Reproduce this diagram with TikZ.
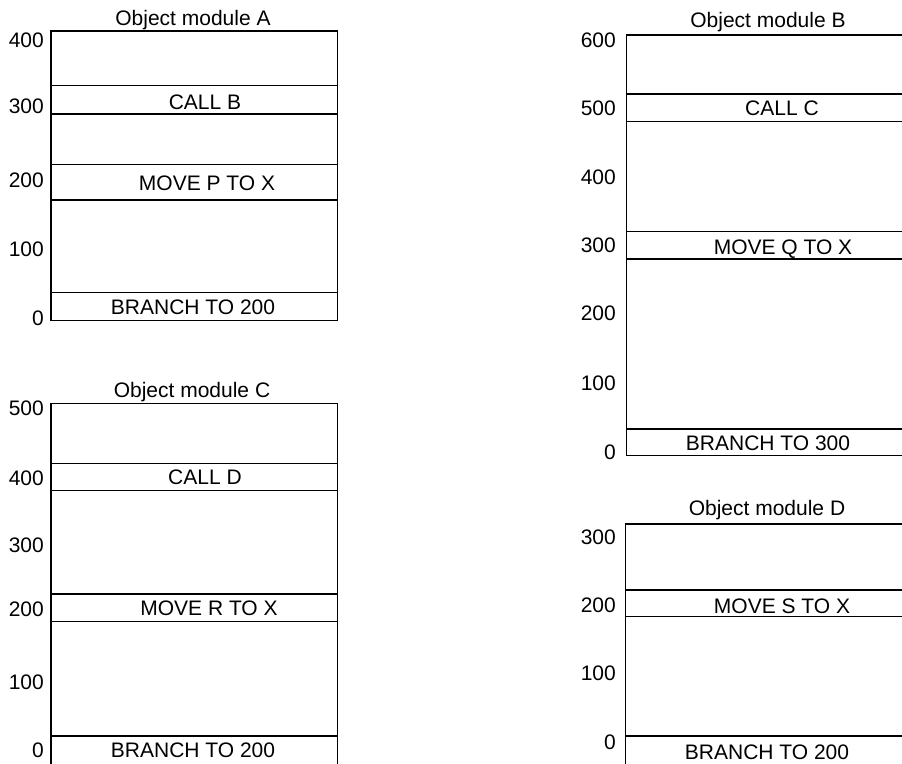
\documentclass[tikz,border=0pt]{standalone}
\usepackage{fontspec}
\setmainfont{Liberation Sans}
\begin{document}
\begin{tikzpicture}[x=1pt,y=-1pt,
  lbl/.style={anchor=base,inner sep=0pt,font=\fontsize{21}{24}\selectfont},
  num/.style={anchor=base east,inner sep=0pt,font=\fontsize{21}{24}\selectfont},
  box/.style={draw=black,line width=1.3pt},
  sep/.style={draw=black,line width=1.1pt}]
\useasboundingbox (0,0) rectangle (902,763);
% ---------- Module A ----------
\draw[box] (51,31) rectangle (337.5,320.5);
\foreach \y in {85.5,114,164.5,200,292.5} \draw[sep] (51,\y) -- (337.5,\y);
\node[lbl] (tA) at (193,25.5) {Object module A};
\node[num] (a400) at (44,47.5) {400};
\node[num] (a300) at (44,113.5) {300};
\node[num] (a200) at (44,187.5) {200};
\node[num] (a100) at (44,256.5) {100};
\node[num] (a0) at (44,325.5) {0};
\node[lbl] (callB) at (205,109) {CALL B};
\node[lbl] (moveP) at (207,190.5) {MOVE P TO X};
\node[lbl] (brA) at (193,314.5) {BRANCH TO 200};
% ---------- Module C ----------
\draw[box] (51,403.3) rectangle (337.5,800);
\foreach \y in {463.3,490.7,594,621.7,736} \draw[sep] (51,\y) -- (337.5,\y);
\node[lbl] (tC) at (192,397.5) {Object module C};
\node[num] (c500) at (44,415.5) {500};
\node[num] (c400) at (44,485.5) {400};
\node[num] (c300) at (44,552.5) {300};
\node[num] (c200) at (44,616.5) {200};
\node[num] (c100) at (44,689.5) {100};
\node[num] (c0) at (44,757.5) {0};
\node[lbl] (callD) at (205,484.5) {CALL D};
\node[lbl] (moveR) at (209,615.5) {MOVE R TO X};
\node[lbl] (brC) at (193,757.5) {BRANCH TO 200};
% ---------- Module B ----------
\draw[box] (626.7,35) rectangle (915,455.7);
\foreach \y in {94,121.7,231.7,259,429} \draw[sep] (626.7,\y) -- (915,\y);
\node[lbl] (tB) at (768,27.5) {Object module B};
\node[num] (b600) at (616,47.5) {600};
\node[num] (b500) at (616,115.5) {500};
\node[num] (b400) at (616,184.5) {400};
\node[num] (b300) at (616,252.5) {300};
\node[num] (b200) at (616,320.5) {200};
\node[num] (b100) at (616,390.5) {100};
\node[num] (b0) at (616,459.5) {0};
\node[lbl] (callC) at (782,115.5) {CALL C};
\node[lbl] (moveQ) at (783,254.5) {MOVE Q TO X};
\node[lbl] (brB) at (768,450.5) {BRANCH TO 300};
% ---------- Module D ----------
\draw[box] (625.5,524) rectangle (915,800);
\foreach \y in {590,616.7,736} \draw[sep] (625.5,\y) -- (915,\y);
\node[lbl] (tD) at (767,515.5) {Object module D};
\node[num] (d300) at (616,544.5) {300};
\node[num] (d200) at (616,612.5) {200};
\node[num] (d100) at (616,680.5) {100};
\node[num] (d0) at (616,749.5) {0};
\node[lbl] (moveS) at (782,613.5) {MOVE S TO X};
\node[lbl] (brD) at (767,759.5) {BRANCH TO 200};
\end{tikzpicture}
\end{document}
